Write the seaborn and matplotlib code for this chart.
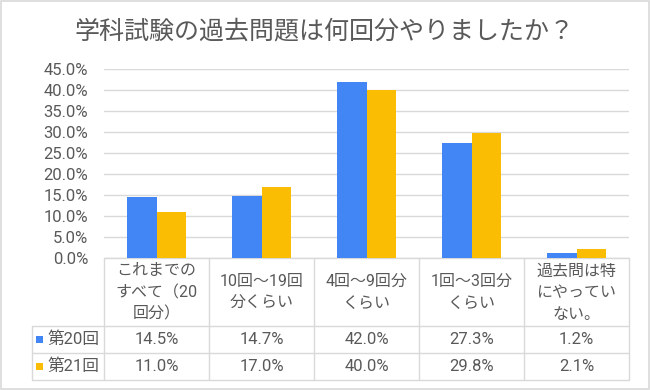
import matplotlib
matplotlib.use("Agg")
import matplotlib.pyplot as plt
import seaborn as sns
import pandas as pd
from matplotlib.patches import Rectangle
from matplotlib.lines import Line2D

title = "学科試験の過去問題は何回分やりましたか？"
categories = ["これまでの\nすべて（20\n回分）", "10回～19回\n分くらい", "4回～9回分\nくらい",
              "1回～3回分\nくらい", "過去問は特\nにやってい\nない。"]
series_names = ["第20回", "第21回"]
values_20 = [14.5, 14.7, 42.0, 27.3, 1.2]
values_21 = [11.0, 17.0, 40.0, 29.8, 2.1]
y_ticks = [0, 5, 10, 15, 20, 25, 30, 35, 40, 45]
colors = ["#4285F4", "#FBBC04"]

sns.set_theme(style="white")
plt.rcParams["font.family"] = ["Roboto", "Noto Sans CJK JP", "DejaVu Sans"]
TXT = "#595959"
GRID = "#d9d9d9"

W, H = 650, 390
fig = plt.figure(figsize=(6.5, 3.9), dpi=100)

# overlay axes in pixel coordinates (for frame and table)
tax = fig.add_axes([0, 0, 1, 1], zorder=0)
tax.set_xlim(0, W)
tax.set_ylim(H, 0)
tax.axis("off")

ax_left, ax_right, ax_bottom, ax_top = 104, 629, 258, 69
ax = fig.add_axes([ax_left / W, 1 - ax_bottom / H, (ax_right - ax_left) / W, (ax_bottom - ax_top) / H], zorder=1)
ax.patch.set_alpha(0)

df = pd.DataFrame({
    "cat": categories * 2,
    "series": [s for s in series_names for _ in categories],
    "value": values_20 + values_21,
})
sns.barplot(data=df, x="cat", y="value", hue="series", hue_order=series_names,
            palette=colors, width=0.57, saturation=1, ax=ax, legend=False,
            edgecolor="none", linewidth=0)
ax.set_xlim(-0.5, len(categories) - 0.5)
ax.set_ylim(0, 45)
ax.set_yticks(y_ticks)
ax.set_yticklabels([f"{t:.1f}%" for t in y_ticks])
ax.yaxis.grid(True, color=GRID, lw=1)
ax.xaxis.grid(False)
ax.set_axisbelow(True)
for s in ax.spines.values():
    s.set_visible(False)
ax.set_xticks([])
ax.set_xlabel("")
ax.set_ylabel("")
ax.tick_params(axis="y", length=0, pad=11.5, labelsize=12, labelcolor=TXT)

# outer frame
tax.add_patch(Rectangle((1, 1), W - 2, H - 2, fill=False, edgecolor=GRID, lw=1.2))

# title
fig.text(0.5, 1 - 31 / H, title, ha="center", va="center", fontsize=18, color=TXT)

# table geometry derived from the bar axes category positions
def px_x(xd):
    return ax.transData.transform((xd, 0))[0]

n = len(categories)
bounds = [px_x(i - 0.5) for i in range(n + 1)]
bounds = [W * (b / fig.bbox.width) for b in bounds]
centers = [(bounds[i] + bounds[i + 1]) / 2 for i in range(n)]
left_edge = 32
y_hdr_top, y_r1, y_r2, y_bot = 258, 326, 353, 380

def hline(y, x0, x1):
    tax.add_line(Line2D([x0, x1], [y, y], color=GRID, lw=1))

def vline(x, y0, y1):
    tax.add_line(Line2D([x, x], [y0, y1], color=GRID, lw=1))

hline(y_hdr_top, bounds[0], bounds[-1])
hline(y_r1, left_edge, bounds[-1])
hline(y_r2, left_edge, bounds[-1])
hline(y_bot, left_edge, bounds[-1])
for b in bounds:
    vline(b, y_hdr_top, y_bot)
vline(left_edge, y_r1, y_bot)

for c, lab in zip(centers, categories):
    tax.text(c, (y_hdr_top + y_r1) / 2 + 0.5, lab, ha="center", va="center",
             multialignment="center", fontsize=11.5, color=TXT, linespacing=1.55)

rows = [(values_20, y_r1, y_r2), (values_21, y_r2, y_bot)]
for (vals, y0, y1), name, col in zip(rows, series_names, colors):
    yc = (y0 + y1) / 2
    tax.add_patch(Rectangle((36, yc - 3.5), 7, 7, facecolor=col, edgecolor="none"))
    tax.text(47, yc, name, ha="left", va="center", fontsize=12, color=TXT)
    for c, v in zip(centers, vals):
        tax.text(c, yc, f"{v:.1f}%", ha="center", va="center", fontsize=12, color=TXT)

fig.savefig("out.png", dpi=100)
